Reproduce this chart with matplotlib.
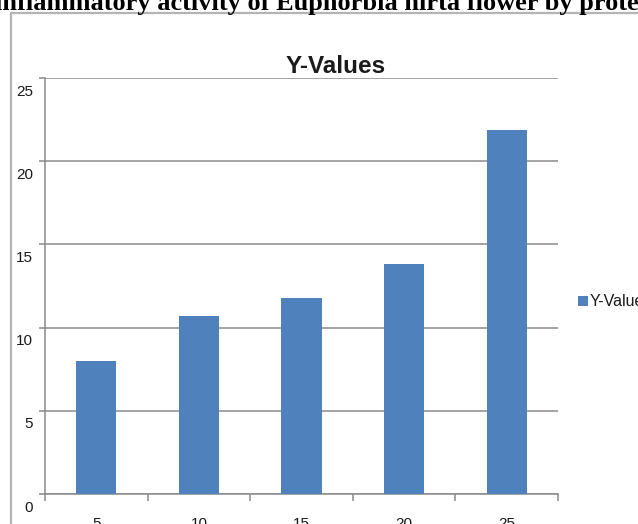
import matplotlib
matplotlib.use("Agg")
import matplotlib.pyplot as plt
from matplotlib.transforms import ScaledTranslation
from matplotlib.patches import Patch
from matplotlib.lines import Line2D
import numpy as np

# ---- data ----
categories = ["5", "10", "15", "20", "25"]
values = [8.0, 10.7, 11.8, 13.8, 21.9]
yticks = [0, 5, 10, 15, 20, 25]
series_name = "Y-Values"
chart_title = "Y-Values"
page_caption = "inflammatory activity of Euphorbia hirta flower by protein denaturation"

W, H = 638, 524
DPI = 100
fig = plt.figure(figsize=(W / DPI, H / DPI), dpi=DPI)
fig.patch.set_facecolor("white")

sans = ["Liberation Sans Narrow", "Liberation Sans", "DejaVu Sans"]

def fx(px):
    return px / W

def fy(py):
    return 1 - py / H

ax = fig.add_axes([fx(45), fy(494), fx(558) - fx(45), fy(78) - fy(494)])

x = np.arange(len(categories))
bar_color = "#4F81BD"
ax.bar(x, values, width=0.39, color=bar_color, zorder=3)

ax.set_xlim(-0.5, len(categories) - 0.5)
ax.set_ylim(0, 25)

grid_color = "#8a8a8a"
for s in ["top", "right"]:
    ax.spines[s].set_visible(False)
for s in ["left", "bottom"]:
    ax.spines[s].set_color(grid_color)
    ax.spines[s].set_linewidth(1.1)

ax.set_yticks(yticks)
ax.set_yticklabels([str(v) for v in yticks], fontfamily=sans, fontsize=11, color="#1a1a1a")
ax.yaxis.grid(True, color=grid_color, linewidth=1.1, zorder=0)
ax.set_axisbelow(True)
ax.tick_params(axis="y", which="major", length=4, width=1.1, color=grid_color, pad=4.5)
off = ScaledTranslation(0, -12 / DPI, fig.dpi_scale_trans)
for lab in ax.get_yticklabels():
    lab.set_transform(lab.get_transform() + off)

ax.set_xticks(x)
ax.set_xticklabels(categories, fontfamily=sans, fontsize=11, color="#1a1a1a")
ax.tick_params(axis="x", which="major", length=0, pad=16.5)
ax.set_xticks(np.arange(len(categories) + 1) - 0.5, minor=True)
ax.tick_params(axis="x", which="minor", length=5, width=1.1, color=grid_color, direction="out")

# chart title
fig.text(fx(336), fy(73), chart_title, ha="center", va="baseline",
         fontfamily=sans, fontsize=17.5, fontweight="bold", color="#1a1a1a")

# legend
leg = fig.legend(handles=[Patch(facecolor=bar_color, edgecolor="none", label=series_name)],
                 loc="center left", bbox_to_anchor=(fx(578), fy(302)),
                 frameon=False, prop={"family": sans, "size": 11.5},
                 handlelength=0.6, handleheight=0.6, handletextpad=0.15,
                 borderpad=0, borderaxespad=0)
for t in leg.get_texts():
    t.set_color("#1a1a1a")

# chart frame (border of the embedded chart)
frame_color = "#b4b4b4"
fig.add_artist(Line2D([fx(11), fx(11), fx(W + 5)], [fy(H + 5), fy(13), fy(13)],
                      transform=fig.transFigure, color=frame_color, linewidth=1.6))

# page caption above (cut off in the screenshot)
fig.text(fx(-5), fy(10), page_caption, ha="left", va="baseline",
         fontfamily=["Liberation Serif", "DejaVu Serif"], fontsize=19, fontweight="bold",
         color="black")

fig.savefig("out.png", dpi=DPI)
